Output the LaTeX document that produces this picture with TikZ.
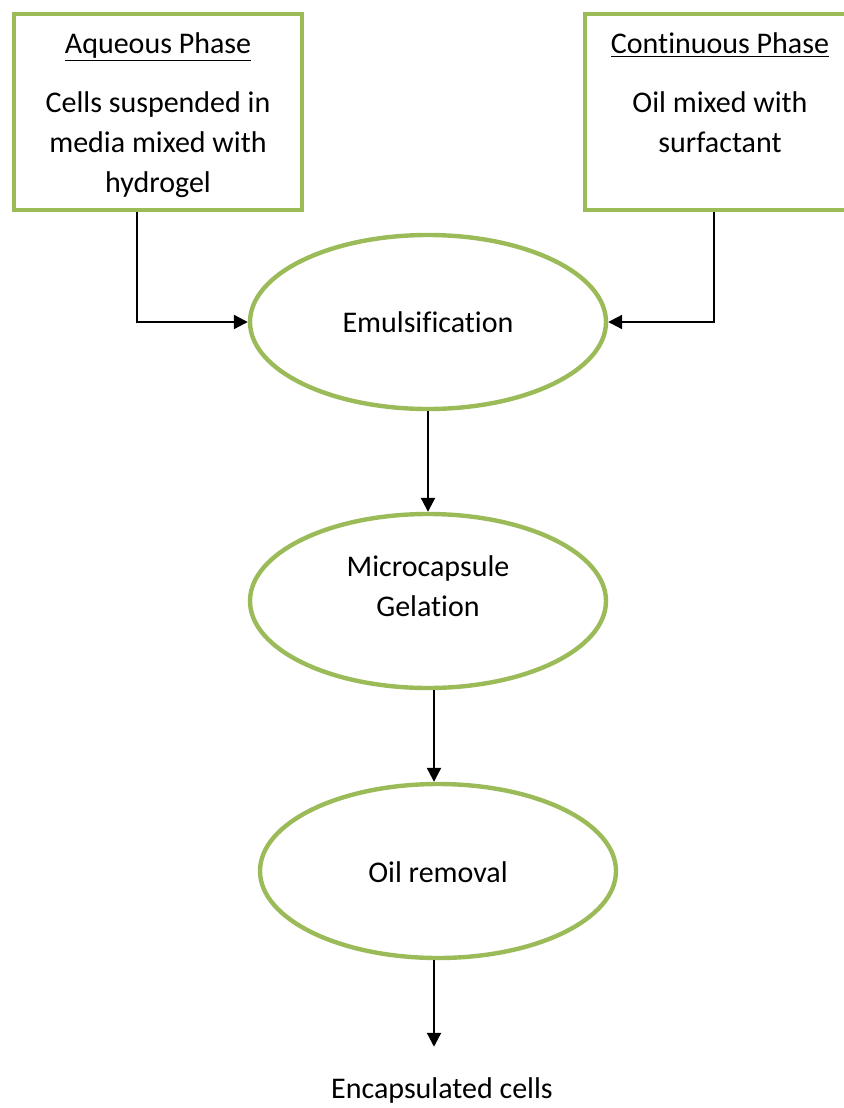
\documentclass[tikz,border=0pt]{standalone}
\usepackage{fontspec}
\setmainfont{Carlito}[Ligatures=NoCommon]
\usepackage{xcolor}
\usetikzlibrary{shapes.geometric,arrows.meta}
\definecolor{olive}{HTML}{9BBB59}

\begin{document}
\begin{tikzpicture}[x=0.5pt,y=-0.5pt,font=\fontsize{15}{20}\selectfont,
phase/.style={rectangle,draw=olive,line width=2.2pt,minimum width=144pt,minimum height=98pt,inner sep=0pt},
stage/.style={ellipse,draw=olive,line width=2.2pt,minimum width=178pt,minimum height=87pt,inner sep=0pt},
lbl/.style={align=center,inner sep=0pt},
arr/.style={line width=1.1pt,-{Triangle[length=7pt,width=7pt]}}]
\useasboundingbox (0,0) rectangle (844,1108);
%
\node[phase] (aq) at (158,112) {};
\node[phase,minimum width=135pt] (co) at (720,112) {};
\node[lbl,anchor=north] (aqtxt) at ([yshift=-10pt]aq.north) {\underline{Aqueous Phase}\\[9.5pt]Cells suspended in\\media mixed with\\hydrogel};
\node[lbl,anchor=north] (cotxt) at ([yshift=-10pt]co.north) {\underline{Continuous Phase}\\[9.5pt]Oil mixed with\\surfactant};
%
\node[stage] (emul) at (428,322) {};
\node[lbl] (emultxt) at (428,322) {Emulsification};
\node[stage] (gel) at (428,601) {};
\node[lbl] (geltxt) at (428,586) {Microcapsule\\Gelation};
\node[stage] (oil) at (438,871) {};
\node[lbl] (oiltxt) at (438,872) {Oil removal};
\node[lbl] (cells) at (442,1090) {Encapsulated cells};
%
\draw[arr] ([xshift=-10.5pt]aq.south) |- (emul.west);
\draw[arr] ([xshift=-3pt]co.south) |- (emul.east);
\draw[arr] (emul.south) -- (gel.north);
\draw[arr] ([xshift=3pt]gel.south) -- ([xshift=3pt]gel.south |- oil.north);
\draw[arr] ([xshift=-2pt]oil.south) -- ([xshift=-2pt,yshift=15pt]oil.south |- cells.north);
%
\end{tikzpicture}
\end{document}
